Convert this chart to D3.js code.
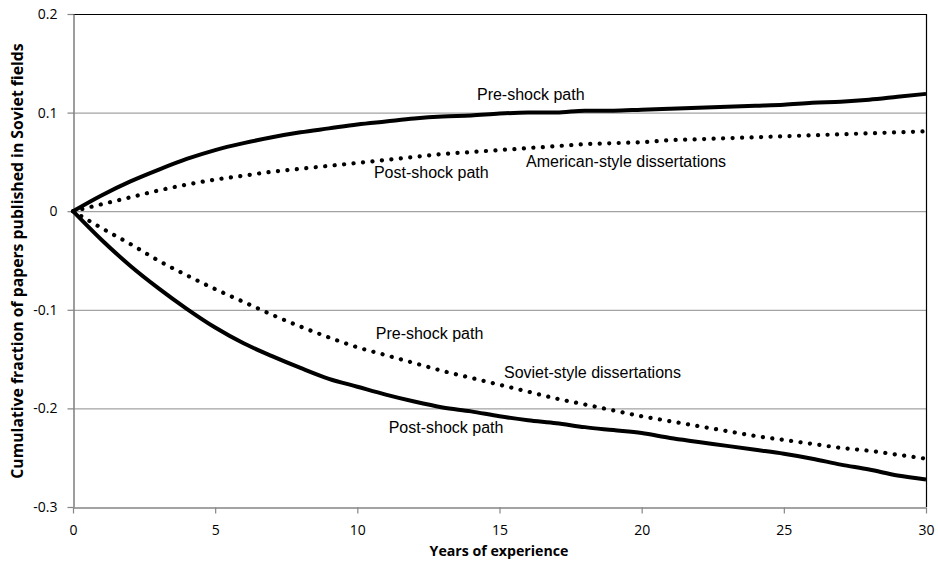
<!DOCTYPE html>
<html><head><meta charset="utf-8">
<script src="https://cdn.jsdelivr.net/npm/d3@7"></script>
<style>body{margin:0;background:#fff}</style>
</head><body><svg id="c" width="938" height="561"></svg>
<script>
const years = d3.range(0, 31);
const americanPre = [0,0.016,0.030,0.042,0.053,0.062,0.069,0.075,0.080,0.084,0.088,0.091,0.094,0.096,0.097,0.099,0.100,0.100,0.102,0.102,0.103,0.104,0.105,0.106,0.107,0.108,0.110,0.111,0.113,0.116,0.119];
const americanPost = [0,0.007,0.014,0.021,0.027,0.032,0.036,0.040,0.043,0.046,0.049,0.052,0.055,0.058,0.060,0.062,0.064,0.066,0.068,0.069,0.070,0.072,0.073,0.074,0.075,0.076,0.077,0.078,0.079,0.080,0.081];
const sovietPre = [0,-0.017,-0.033,-0.050,-0.065,-0.079,-0.092,-0.105,-0.117,-0.128,-0.138,-0.146,-0.154,-0.162,-0.169,-0.176,-0.183,-0.190,-0.196,-0.202,-0.208,-0.213,-0.218,-0.223,-0.228,-0.232,-0.236,-0.240,-0.243,-0.247,-0.251];
const sovietPost = [0,-0.029,-0.055,-0.078,-0.099,-0.118,-0.134,-0.147,-0.159,-0.170,-0.178,-0.186,-0.193,-0.199,-0.203,-0.208,-0.212,-0.215,-0.219,-0.222,-0.225,-0.230,-0.234,-0.238,-0.242,-0.246,-0.251,-0.257,-0.262,-0.268,-0.272];
const xTicks = [0,5,10,15,20,25,30];
const yTicks = [0.2,0.1,0,-0.1,-0.2,-0.3];
const labels = [
  {text:"Pre-shock path", x:16.1, y:0.1127},
  {text:"Post-shock path", x:12.6, y:0.0335},
  {text:"American-style dissertations", x:19.45, y:0.0447},
  {text:"Pre-shock path", x:12.54, y:-0.130},
  {text:"Soviet-style dissertations", x:18.27, y:-0.1695},
  {text:"Post-shock path", x:13.12, y:-0.2254}
];

const svg = d3.select("#c");
const L = 73, R = 926, T = 14, B = 507;
const x = d3.scaleLinear().domain([0,30]).range([L,R]);
const y = d3.scaleLinear().domain([-0.3,0.2]).range([B,T]);

// grid
svg.append("g").selectAll("line").data(yTicks.filter(d=>d<0.2 && d>-0.3)).join("line")
  .attr("x1",L).attr("x2",R).attr("y1",d=>y(d)+0.5).attr("y2",d=>y(d)+0.5)
  .attr("stroke","#8c8c8c").attr("stroke-width",1);
// frame top/right
svg.append("line").attr("x1",L).attr("x2",R+0.5).attr("y1",T+0.5).attr("y2",T+0.5).attr("stroke","#000").attr("stroke-width",1.2);
svg.append("line").attr("x1",R+0.5).attr("x2",R+0.5).attr("y1",T).attr("y2",B).attr("stroke","#000").attr("stroke-width",1.2);

const tickFont = "'Open Sans', sans-serif";
const fmt = d => d===0 ? "0" : d3.format(".1f")(d).replace("\u2212","-");
const yAxis = svg.append("g").attr("transform",`translate(${L+0.5},0)`)
  .call(d3.axisLeft(y).tickValues(yTicks).tickSize(6).tickSizeOuter(0).tickFormat(fmt));
const xAxis = svg.append("g").attr("transform",`translate(0,${B+0.5})`)
  .call(d3.axisBottom(x).tickValues(xTicks).tickSize(6).tickSizeOuter(0));
[yAxis,xAxis].forEach(g=>{
  g.selectAll("path").attr("stroke","#858585").attr("stroke-width",1.6);
  g.selectAll("line").attr("stroke","#858585").attr("stroke-width",1.2);
  g.selectAll("text").attr("font-family",tickFont).attr("font-size",14).attr("fill","#000");
});
yAxis.selectAll("text").attr("x",-16);
xAxis.selectAll("text").attr("dy","1.3em");

// lines
const line = d3.line().x((d,i)=>x(years[i])).y(d=>y(d)).curve(d3.curveMonotoneX);
const series = [
  {v:americanPre, dotted:false},
  {v:americanPost, dotted:true},
  {v:sovietPre, dotted:true},
  {v:sovietPost, dotted:false}
];
svg.append("g").selectAll("path").data(series).join("path")
  .attr("d",d=>line(d.v)).attr("fill","none").attr("stroke","#000")
  .attr("stroke-width",d=>d.dotted?4.2:4)
  .attr("stroke-linecap",d=>d.dotted?"round":"butt")
  .attr("stroke-dasharray",d=>d.dotted?"0.1 9.4":null);

// annotations
svg.append("g").selectAll("text").data(labels).join("text")
  .attr("x",d=>x(d.x)).attr("y",d=>y(d.y)).attr("text-anchor","middle")
  .attr("font-family","'Liberation Sans', Arial, sans-serif").attr("font-size",16).attr("fill","#000")
  .text(d=>d.text);

// axis titles, sized to the reference's measured text lengths
function fitText(sel, target, base){
  const len = sel.node().getComputedTextLength();
  sel.attr("font-size", base * target / len);
}
const xt = svg.append("text").attr("x",499).attr("y",556).attr("text-anchor","middle")
  .attr("font-family",tickFont).attr("font-weight","bold").attr("font-size",14)
  .text("Years of experience");
fitText(xt, 139, 14);
const yt = svg.append("text").attr("transform",`translate(23,261) rotate(-90)`).attr("text-anchor","middle")
  .attr("font-family",tickFont).attr("font-weight","bold").attr("font-size",14)
  .text("Cumulative fraction of papers published in Soviet fields");
fitText(yt, 436, 14);
</script></body></html>
